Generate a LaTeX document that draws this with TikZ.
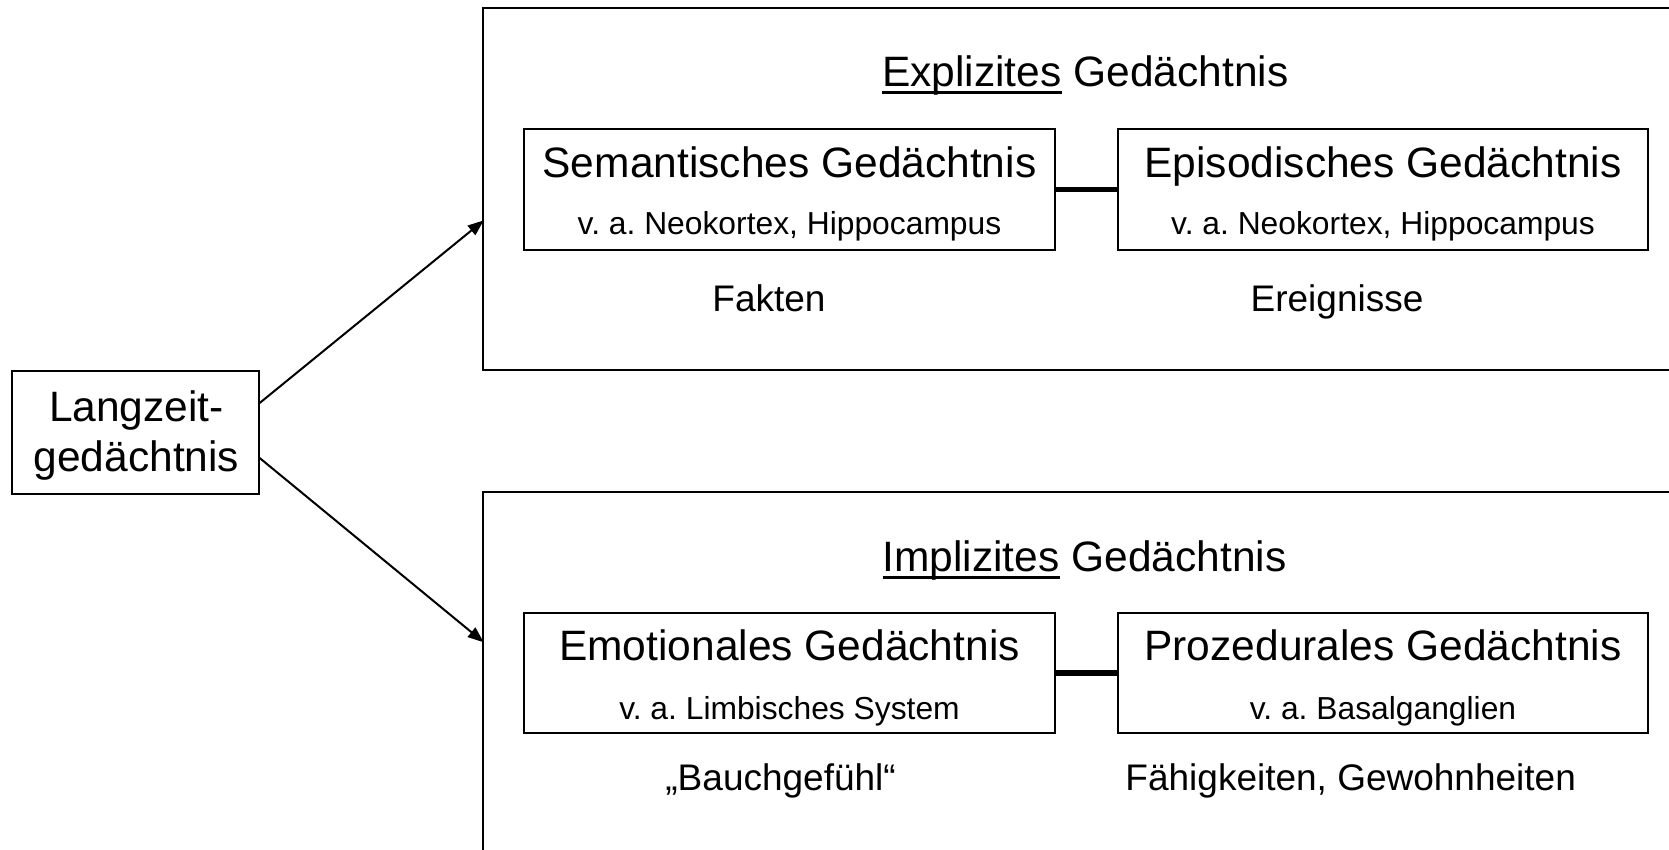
\documentclass[tikz,border=0pt]{standalone}
\usepackage{fontspec}
\setmainfont{Liberation Sans}
\usetikzlibrary{arrows.meta}
\frenchspacing
\newcommand\myul[1]{\setbox0\hbox{#1}\rlap{\rule[-7pt]{\wd0}{2.8pt}}\box0\relax}
\tikzset{
  bigfont/.style={font=\fontsize{42.5}{50}\selectfont\frenchspacing},
  subfont/.style={font=\fontsize{31.8}{36}\selectfont\frenchspacing},
  labfont/.style={font=\fontsize{37}{44}\selectfont\frenchspacing},
  frame/.style={draw, line width=2pt},
  membox/.style={draw, line width=2pt, rectangle, minimum width=531pt, minimum height=121pt, inner sep=0pt, outer sep=0pt},
  txt/.style={anchor=base, inner sep=0pt},
  link/.style={line width=5.5pt},
  arr/.style={line width=2pt, -{Triangle[length=16pt,width=12pt]}, shorten >=-1pt},
}
\begin{document}
\begin{tikzpicture}[x=1pt,y=-1pt]
\useasboundingbox (0,0) rectangle (1669,850);
\clip (0,0) rectangle (1669,850);
\fill[white] (0,0) rectangle (1669,850);

% big frames (cut off on the right / bottom)
\draw[frame] (483,8) rectangle (1700,370);
\draw[frame] (483,492) rectangle (1700,900);

\node[txt, bigfont] (expl) at (1085.3,87) {\myul{Explizites} Gedächtnis};
\node[txt, bigfont] (impl) at (1084.5,571.5) {\myul{Implizites} Gedächtnis};

% Langzeitgedaechtnis
\node[draw, line width=2pt, minimum width=247.6pt, minimum height=123.3pt, inner sep=0pt, outer sep=0pt] (lz) at (135.5,432.3) {};
\node[txt, bigfont] (lz1) at (136.5,421.7) {Langzeit-};
\node[txt, bigfont] (lz2) at (136.5,471.7) {gedächtnis};

% inner boxes
\node[membox] (sem) at (789.5,189.5) {};
\node[membox, minimum width=530pt] (epi) at (1383,189.5) {};
\node[membox, minimum height=120pt] (emo) at (789.5,673) {};
\node[membox, minimum width=530pt, minimum height=120pt] (pro) at (1383,673) {};

\node[txt, bigfont] (semt) at (789.5,177.8) {Semantisches Gedächtnis};
\node[txt, subfont] (sems) at (789.5,235) {v. a. Neokortex, Hippocampus};
\node[txt, bigfont] (epit) at (1383,177.8) {Episodisches Gedächtnis};
\node[txt, subfont] (epis) at (1383,235) {v. a. Neokortex, Hippocampus};
\node[txt, bigfont] (emot) at (789.5,660) {Emotionales Gedächtnis};
\node[txt, subfont] (emos) at (789.5,719.5) {v. a. Limbisches System};
\node[txt, bigfont] (prot) at (1383,660) {Prozedurales Gedächtnis};
\node[txt, subfont] (pros) at (1383,719.5) {v. a. Basalganglien};

\node[txt, labfont] (fak) at (769,311) {Fakten};
\node[txt, labfont] (ere) at (1337,311) {Ereignisse};
\node[txt, labfont] (bau) at (780.6,790) {„Bauchgefühl“};
\node[txt, labfont] (fae) at (1350.7,790) {Fähigkeiten, Gewohnheiten};

% thick links
\draw[link] (sem.east) -- (epi.west);
\draw[link] (emo.east) -- (pro.west);

% arrows
\coordinate (s1) at (259.3,403.3);
\coordinate (e1) at (483,221);
\coordinate (s2) at (259.3,457.7);
\coordinate (e2) at (483,641.7);
\draw[arr] (s1) -- (e1);
\draw[arr] (s2) -- (e2);
\end{tikzpicture}
\end{document}
